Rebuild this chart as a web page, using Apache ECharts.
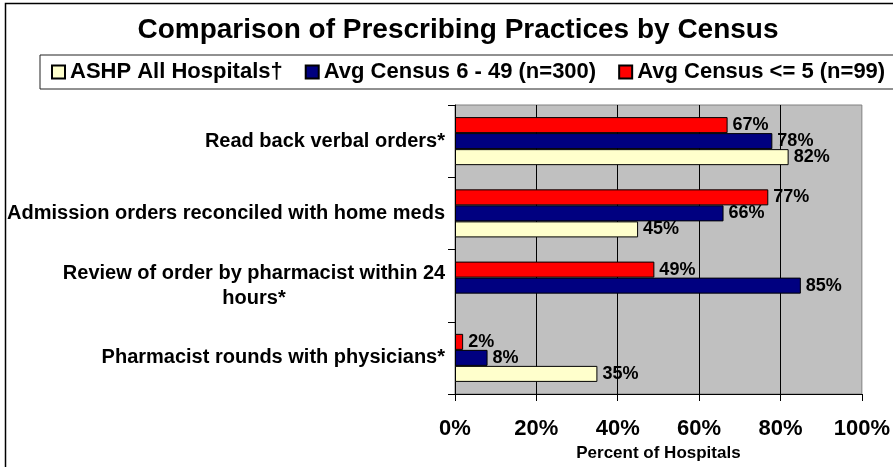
<!DOCTYPE html>
<html>
<head>
<meta charset="utf-8">
<script src="https://cdn.jsdelivr.net/npm/echarts@6/dist/echarts.min.js"></script>
<style>
    html, body { margin: 0; padding: 0; background: #fff; }
    #chart { width: 893px; height: 467px; }
</style>
</head>
<body>
<div id="chart"></div>
<script>
// categories listed top to bottom as they appear in the chart
const categories = [
    'Read back verbal orders*',
    'Admission orders reconciled with home meds',
    'Review of order by pharmacist within 24\nhours*',
    'Pharmacist rounds with physicians*'
];
const seriesNames = ['ASHP All Hospitals\u2020', 'Avg Census 6 - 49 (n=300)', 'Avg Census <= 5 (n=99)'];
const ashpAll = [82, 45, null, 35];
const census6to49 = [78, 66, 85, 8];
const census5 = [67, 77, 49, 2];
const xTicks = [0, 20, 40, 60, 80, 100];

const FONT = '"Liberation Sans", Arial, sans-serif';
const colors = ['#FFFFCC', '#000080', '#FF0000'];

// within a group the first series sits on top, so add them last-to-first
const seriesList = [ashpAll, census6to49, census5].map((vals, i) => ({
    name: seriesNames[i],
    type: 'bar',
    data: vals,
    barGap: '0%',
    barCategoryGap: '33.5%',
    itemStyle: { color: colors[i], borderColor: '#000', borderWidth: 1 },
    label: {
        show: true,
        position: 'right',
        distance: 5,
        formatter: '{c}%',
        fontFamily: FONT,
        fontSize: 18,
        fontWeight: 'bold',
        color: '#000'
    }
})).reverse();

const chart = echarts.init(document.getElementById('chart'));
chart.setOption({
    backgroundColor: '#fff',
    animation: false,
    textStyle: { fontFamily: FONT },
    title: {
        text: 'Comparison of Prescribing Practices by Census',
        left: 453,
        textAlign: 'center',
        top: 11,
        textStyle: { fontFamily: FONT, fontSize: 28, fontWeight: 'bold', color: '#000' }
    },
    legend: {
        data: seriesNames,
        left: 40,
        top: 55,
        width: 1200,
        padding: [6, 30, 6, 11],
        itemWidth: 13,
        itemHeight: 13,
        itemGap: 22,
        borderColor: '#222',
        borderWidth: 1,
        icon: 'rect',
        textStyle: { fontFamily: FONT, fontSize: 22, fontWeight: 'bold', color: '#000' }
    },
    grid: {
        left: 455,
        right: 26,
        top: 105,
        bottom: 73,
        show: true,
        backgroundColor: '#C0C0C0',
        borderColor: '#808080',
        borderWidth: 1
    },
    xAxis: {
        type: 'value',
        min: 0,
        max: 100,
        interval: 20,
        name: 'Percent of Hospitals',
        nameLocation: 'middle',
        nameGap: 50,
        nameTextStyle: { fontFamily: FONT, fontSize: 17, fontWeight: 'bold', color: '#000' },
        axisLine: { show: true, lineStyle: { color: '#000', width: 1 } },
        axisTick: { show: true, length: 7, lineStyle: { color: '#000' } },
        axisLabel: {
            margin: 24,
            fontFamily: FONT,
            fontSize: 22,
            fontWeight: 'bold',
            color: '#000',
            formatter: v => xTicks.includes(v) ? v + '%' : ''
        },
        splitLine: {
            show: true,
            showMinLine: false,
            showMaxLine: false,
            lineStyle: { color: '#000', width: 1 }
        }
    },
    yAxis: {
        type: 'category',
        inverse: true,
        data: categories,
        axisLine: { show: true, lineStyle: { color: '#000', width: 1 } },
        axisTick: { show: true, length: 7, lineStyle: { color: '#000' } },
        axisLabel: {
            margin: 10,
            fontFamily: FONT,
            fontSize: 20,
            fontWeight: 'bold',
            color: '#000',
            formatter: v => v.indexOf('\n') >= 0 ? '{c|' + v + '}' : v,
            rich: {
                c: {
                    width: 382,
                    align: 'center',
                    lineHeight: 25,
                    fontFamily: FONT,
                    fontSize: 20,
                    fontWeight: 'bold',
                    color: '#000'
                }
            }
        },
        splitLine: { show: false }
    },
    series: seriesList,
    graphic: [{
        type: 'rect',
        shape: { x: 5.5, y: 3.5, width: 1000, height: 1000 },
        style: { fill: null, stroke: '#000', lineWidth: 1.5 },
        silent: true
    }]
});
</script>
</body>
</html>
